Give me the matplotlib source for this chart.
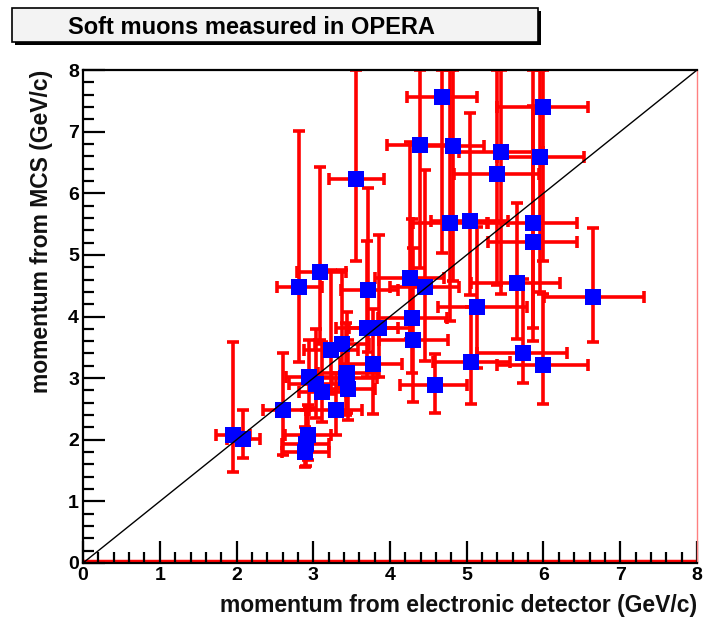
import matplotlib
matplotlib.use("Agg")
import matplotlib.pyplot as plt
from matplotlib.patches import Rectangle
from matplotlib.ticker import MultipleLocator

# momentum from the electronic detector (GeV/c)
p_ed = [1.95, 2.09, 2.60, 2.82, 2.94, 2.93, 2.91, 2.89, 3.09, 3.04, 3.12,
        3.23, 3.37, 3.29, 3.43, 3.45, 3.44, 3.56, 3.71, 3.70, 3.86, 3.78,
        4.26, 4.29, 4.30, 4.39, 4.45, 4.58, 4.68, 4.78, 4.82, 5.04, 5.06,
        5.13, 5.39, 5.45, 5.65, 5.73, 5.86, 5.86, 5.96, 5.99, 6.00, 6.65]
# momentum from multiple Coulomb scattering (GeV/c)
p_mcs = [2.08, 2.01, 2.48, 4.48, 3.02, 2.07, 1.93, 1.80, 4.72, 2.90, 2.78,
         3.45, 3.55, 2.48, 3.00, 2.82, 3.08, 6.23, 4.43, 3.82, 3.82, 3.23,
         4.63, 3.98, 3.62, 6.79, 4.48, 2.89, 7.56, 5.52, 6.77, 5.55, 3.26,
         4.16, 6.31, 6.67, 4.54, 3.41, 5.21, 5.52, 6.59, 7.40, 3.21, 4.32]
# asymmetric uncertainties
ed_lo = [0.22, 0.22, 0.26, 0.29, 0.30, 0.30, 0.32, 0.30, 0.30, 0.35, 0.30,
         0.35, 0.35, 0.35, 0.35, 0.40, 0.38, 0.36, 0.35, 0.40, 0.40, 0.43,
         0.45, 0.45, 0.45, 0.43, 0.45, 0.45, 0.46, 0.48, 0.45, 0.50, 0.50,
         0.50, 0.55, 0.55, 0.60, 0.60, 0.58, 0.58, 0.57, 0.60, 0.61, 0.64]
ed_hi = [0.22, 0.22, 0.30, 0.30, 0.30, 0.30, 0.30, 0.32, 0.33, 0.35, 0.30,
         0.35, 0.35, 0.35, 0.40, 0.35, 0.40, 0.36, 0.40, 0.40, 0.40, 0.38,
         0.45, 0.45, 0.45, 0.45, 0.45, 0.42, 0.45, 0.48, 0.40, 0.50, 0.50,
         0.65, 0.55, 0.55, 0.56, 0.57, 0.58, 0.58, 0.57, 0.59, 0.58, 0.66]
mcs_lo = [0.60, 0.30, 0.73, 1.22, 0.50, 0.40, 0.35, 0.25, 1.10, 0.55, 0.50,
          0.70, 0.70, 0.40, 0.60, 0.50, 0.65, 1.33, 1.00, 0.80, 0.80, 0.81,
          1.00, 0.90, 1.00, 2.00, 1.20, 0.45, 2.53, 1.60, 2.20, 1.20, 0.68,
          1.00, 1.80, 2.30, 0.90, 0.49, 1.60, 1.70, 2.20, 2.50, 0.63, 0.73]
mcs_hi = [1.50, 0.47, 0.93, 2.53, 0.60, 0.50, 0.55, 0.40, 1.71, 0.90, 0.80,
          1.30, 1.20, 0.60, 0.90, 0.80, 1.00, 1.77, 1.66, 1.40, 1.50, 0.90,
          2.20, 1.60, 1.50, 1.21, 1.90, 0.50, 0.44, 2.48, 1.23, 1.75, 0.90,
          1.30, 1.69, 1.33, 1.30, 1.20, 2.20, 2.48, 1.41, 0.60, 1.16, 1.12]

title = "Soft muons measured in OPERA"
xlabel = "momentum from electronic detector (GeV/c)"
ylabel = "momentum from MCS (GeV/c)"

plt.rcParams["font.family"] = ["Liberation Sans", "DejaVu Sans"]

fig = plt.figure(figsize=(7.04, 6.2), dpi=100)
ax = fig.add_axes([0.118, 0.092, 0.872, 0.795])
ax.set_xlim(0, 8)
ax.set_ylim(0, 8)

ax.errorbar(p_ed, p_mcs, xerr=[ed_lo, ed_hi], yerr=[mcs_lo, mcs_hi],
            fmt="none", ecolor="#ff0000", elinewidth=2.6, capsize=4,
            capthick=2.6, zorder=2, clip_on=True)
ax.plot(p_ed, p_mcs, "s", color="#0000ff", markersize=11, zorder=3,
        markeredgewidth=0)
ax.plot([0, 8], [0, 8], color="black", lw=1.0, zorder=4)
ax.axhline(0.03, color="#ff0000", lw=2.5, zorder=1)

for side in ("top", "left", "bottom"):
    ax.spines[side].set_linewidth(1.6)
ax.spines["right"].set_color("#ff8080")
ax.spines["right"].set_linewidth(1.0)
ax.xaxis.set_major_locator(MultipleLocator(1))
ax.xaxis.set_minor_locator(MultipleLocator(0.2))
ax.yaxis.set_major_locator(MultipleLocator(1))
ax.yaxis.set_minor_locator(MultipleLocator(0.2))
ax.tick_params(which="both", direction="in", top=False, right=False,
               width=1.6, labelsize=14, pad=3)
ax.tick_params(which="major", length=16)
ax.tick_params(which="minor", length=8)
for lbl in ax.get_xticklabels() + ax.get_yticklabels():
    lbl.set_fontweight("bold")

ax.set_xlabel(xlabel, fontsize=16.5, fontweight="bold", color="#111111",
              loc="right", labelpad=7)
ax.set_ylabel(ylabel, fontsize=16.5, fontweight="bold", color="#111111",
              loc="top", labelpad=11)

# title pave with a drop shadow
fig.patches.append(Rectangle((15 / 704, 1 - 45 / 620), 526 / 704, 34 / 620,
                             transform=fig.transFigure, facecolor="black",
                             edgecolor="none", zorder=0))
fig.patches.append(Rectangle((12 / 704, 1 - 42 / 620), 526 / 704, 34 / 620,
                             transform=fig.transFigure, facecolor="#f3f3f3",
                             edgecolor="black", lw=1.2, zorder=1))
fig.text(68 / 704, 1 - 28 / 620, title, fontsize=17, fontweight="bold",
         va="center", ha="left")

fig.savefig("out.png", dpi=100)
